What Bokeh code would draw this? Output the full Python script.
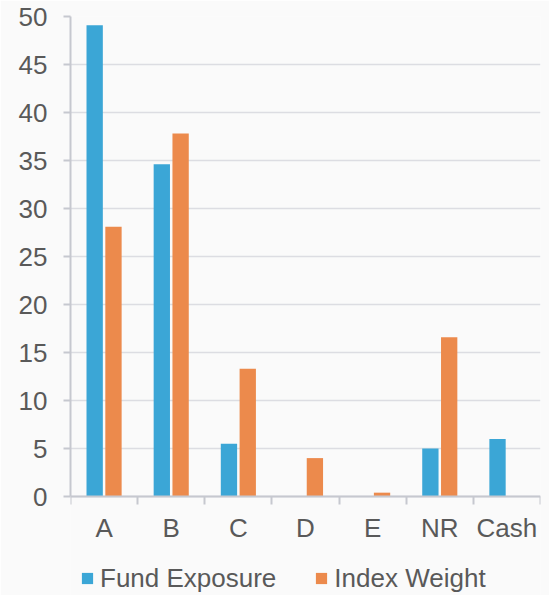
from bokeh.plotting import figure
from bokeh.models import ColumnDataSource, FixedTicker, Range1d, Legend, LegendItem
from bokeh.transform import dodge
from bokeh.embed import file_html
from bokeh.resources import INLINE

categories = ["A", "B", "C", "D", "E", "NR", "Cash"]
fund_exposure = [49.1, 34.6, 5.5, 0.0, 0.0, 5.0, 6.0]
index_weight = [28.1, 37.8, 13.3, 4.0, 0.4, 16.6, 0.0]
y_ticks = [0, 5, 10, 15, 20, 25, 30, 35, 40, 45, 50]

positions = [i + 0.5 for i in range(len(categories))]
source = ColumnDataSource(dict(x=positions, fund=fund_exposure, index=index_weight, cat=categories))

BG = "#fafafa"
TXT = "#595959"
AX = "#c6c8cf"
FONT = "Liberation Sans"

# frame extends below zero so the legend sits inside it; x axis is pinned at y = 0
FRAME_H = 579
Y_MAX = 50
Y_MIN = Y_MAX - FRAME_H / 9.6

p = figure(frame_width=470, frame_height=FRAME_H,
           output_backend="svg", toolbar_location=None,
           x_range=Range1d(0, len(categories)), y_range=Range1d(Y_MIN, Y_MAX),
           min_border_left=70, min_border_right=9, min_border_top=16, min_border_bottom=0)
p.background_fill_color = BG
p.border_fill_color = BG
p.outline_line_color = None

r1 = p.vbar(x=dodge("x", -0.14), top="fund", width=0.243, source=source,
            fill_color="#3ba6d6", line_color=None)
r2 = p.vbar(x=dodge("x", 0.14), top="index", width=0.243, source=source,
            fill_color="#ec8a4c", line_color=None)

# x axis: labels at category centres, ticks at category boundaries
p.xaxis.fixed_location = 0
p.xaxis.ticker = FixedTicker(ticks=positions, minor_ticks=list(range(len(categories) + 1)))
p.xaxis.major_label_overrides = {pos: c for pos, c in zip(positions, categories)}
p.xaxis.major_tick_out = 0
p.xaxis.major_tick_in = 0
p.xaxis.minor_tick_out = 8
p.xaxis.minor_tick_in = 0
p.xaxis.minor_tick_line_color = AX
p.xaxis.minor_tick_line_width = 2
p.xaxis.axis_line_color = AX
p.xaxis.axis_line_width = 2
p.xaxis.major_label_standoff = 8
p.xaxis.major_label_text_font = FONT
p.xaxis.major_label_text_font_size = "26px"
p.xaxis.major_label_text_color = TXT
p.xgrid.grid_line_color = None

p.yaxis.ticker = FixedTicker(ticks=y_ticks)
p.yaxis.bounds = (0, 50)
p.yaxis.major_tick_out = 7
p.yaxis.major_tick_in = 0
p.yaxis.minor_tick_line_color = None
p.yaxis.major_tick_line_color = AX
p.yaxis.major_tick_line_width = 2
p.yaxis.axis_line_color = AX
p.yaxis.axis_line_width = 2
p.yaxis.major_label_standoff = 16
p.yaxis.major_label_text_font = FONT
p.yaxis.major_label_text_font_size = "26px"
p.yaxis.major_label_text_color = TXT
p.ygrid.grid_line_color = "#dcdde2"
p.ygrid.grid_line_width = 1.5

legend = Legend(items=[LegendItem(label="Fund Exposure", renderers=[r1]),
                       LegendItem(label="Index Weight", renderers=[r2])],
                orientation="horizontal", location=(10, 1.5),
                glyph_width=14, glyph_height=14, label_standoff=6, spacing=38,
                padding=0, margin=0, border_line_color=None, background_fill_alpha=0,
                label_text_font=FONT, label_text_font_size="26px", label_text_color=TXT)
p.add_layout(legend, "center")

open("out.html", "w").write(file_html(p, INLINE))
